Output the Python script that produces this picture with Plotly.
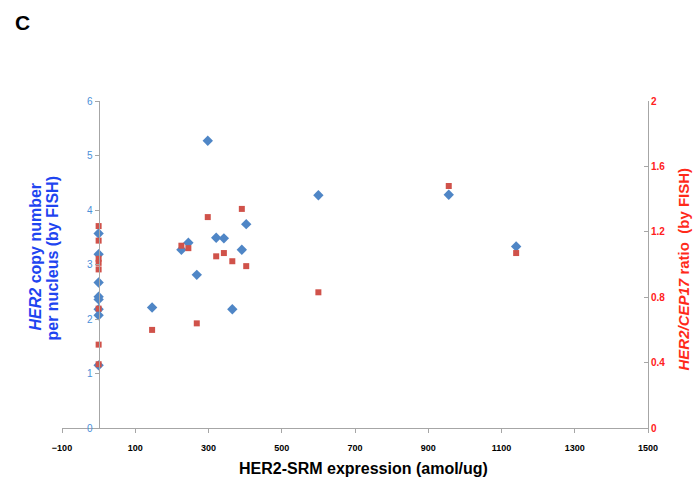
import plotly.graph_objects as go

# HER2-SRM expression (amol/ug), shared by both series
srm = [0, 0, 0, 0, 0, 0, 0, 0,
       146, 226, 245, 268, 298, 321, 342, 365, 391, 403, 600, 956, 1140]
# HER2 copy number per nucleus (left axis)
copy_number = [3.57, 3.19, 2.67, 2.41, 2.36, 2.18, 2.07, 1.15,
               2.21, 3.27, 3.40, 2.81, 5.27, 3.49, 3.48, 2.18, 3.27, 3.74, 4.27, 4.28, 3.33]
# HER2/CEP17 ratio (right axis)
ratio = [1.235, 1.146, 1.035, 1.01, 0.97, 0.73, 0.51, 0.39,
         0.60, 1.115, 1.10, 0.64, 1.29, 1.05, 1.07, 1.02, 1.34, 0.99, 0.83, 1.48, 1.07]

x_ticks = [-100, 100, 300, 500, 700, 900, 1100, 1300, 1500]
left_ticks = [0, 1, 2, 3, 4, 5, 6]
right_ticks = [0, 0.4, 0.8, 1.2, 1.6, 2]
right_ticktext = ["0", "0.4", "0.8", "1.2", "1.6", "2"]

fig = go.Figure()
fig.add_trace(go.Scatter(x=srm, y=copy_number, mode="markers", yaxis="y",
                         marker=dict(symbol="diamond", size=8, color="#4F86C6"),
                         showlegend=False))
fig.add_trace(go.Scatter(x=srm, y=ratio, mode="markers", yaxis="y2",
                         marker=dict(symbol="square", size=6, color="#D0524A"),
                         showlegend=False))

axis_line = "#A6A6A6"
fig.update_layout(
    width=694, height=486,
    margin=dict(l=62, r=46, t=101, b=58),
    paper_bgcolor="white", plot_bgcolor="white",
    font=dict(family="Liberation Sans, Arial, sans-serif"),
    xaxis=dict(range=[-100, 1500], tickvals=x_ticks, showline=True, linecolor=axis_line,
               linewidth=1, ticks="outside", ticklen=4, tickcolor=axis_line,
               ticklabelstandoff=7,
               showgrid=False, zeroline=False, anchor="y",
               tickfont=dict(size=9, color="black", weight="bold")),
    yaxis=dict(range=[0, 6], tickvals=left_ticks, showline=True, linecolor=axis_line,
               linewidth=1, ticks="outside", ticklen=4, tickcolor=axis_line,
               showgrid=False, zeroline=False, anchor="free", position=0.0625,
               tickfont=dict(size=10, color="#4A90D9")),
    yaxis2=dict(range=[0, 2], tickvals=right_ticks, ticktext=right_ticktext,
                overlaying="y", side="right", anchor="x", showline=True,
                linecolor=axis_line, linewidth=1, ticks="inside", ticklen=4,
                tickcolor=axis_line, showgrid=False, zeroline=False,
                tickfont=dict(size=10, color="#FF2020", weight="bold")),
    annotations=[
        dict(text="<b>C</b>", x=0, y=1, xref="paper", yref="paper", showarrow=False,
             xanchor="center", yanchor="middle", xshift=-40, yshift=79,
             font=dict(size=21, color="black")),
        dict(text="<b><i>HER2</i> copy number</b>",
             x=0, y=0.5, xref="paper", yref="paper", xshift=-27, yshift=8,
             xanchor="center", yanchor="middle", showarrow=False,
             textangle=-90, font=dict(size=16, color="#1F45F0")),
        dict(text="<b>per nucleus (by FISH)</b>",
             x=0, y=0.5, xref="paper", yref="paper", xshift=-10, yshift=6,
             xanchor="center", yanchor="middle", showarrow=False,
             textangle=-90, font=dict(size=16, color="#1F45F0")),
        dict(text="<b><i>HER2/CEP17</i> ratio  (by FISH)</b>",
             x=1, y=0.5, xref="paper", yref="paper", xshift=35, yshift=-5,
             xanchor="center", yanchor="middle", showarrow=False,
             textangle=-90, font=dict(size=15, color="#FF2A1A")),
        dict(text="<b>HER2-SRM expression (amol/ug)</b>",
             x=0.515, y=0, xref="paper", yref="paper", yshift=-40,
             xanchor="center", yanchor="middle", showarrow=False,
             font=dict(size=16, color="black")),
    ],
)

fig.write_html("out.html")
